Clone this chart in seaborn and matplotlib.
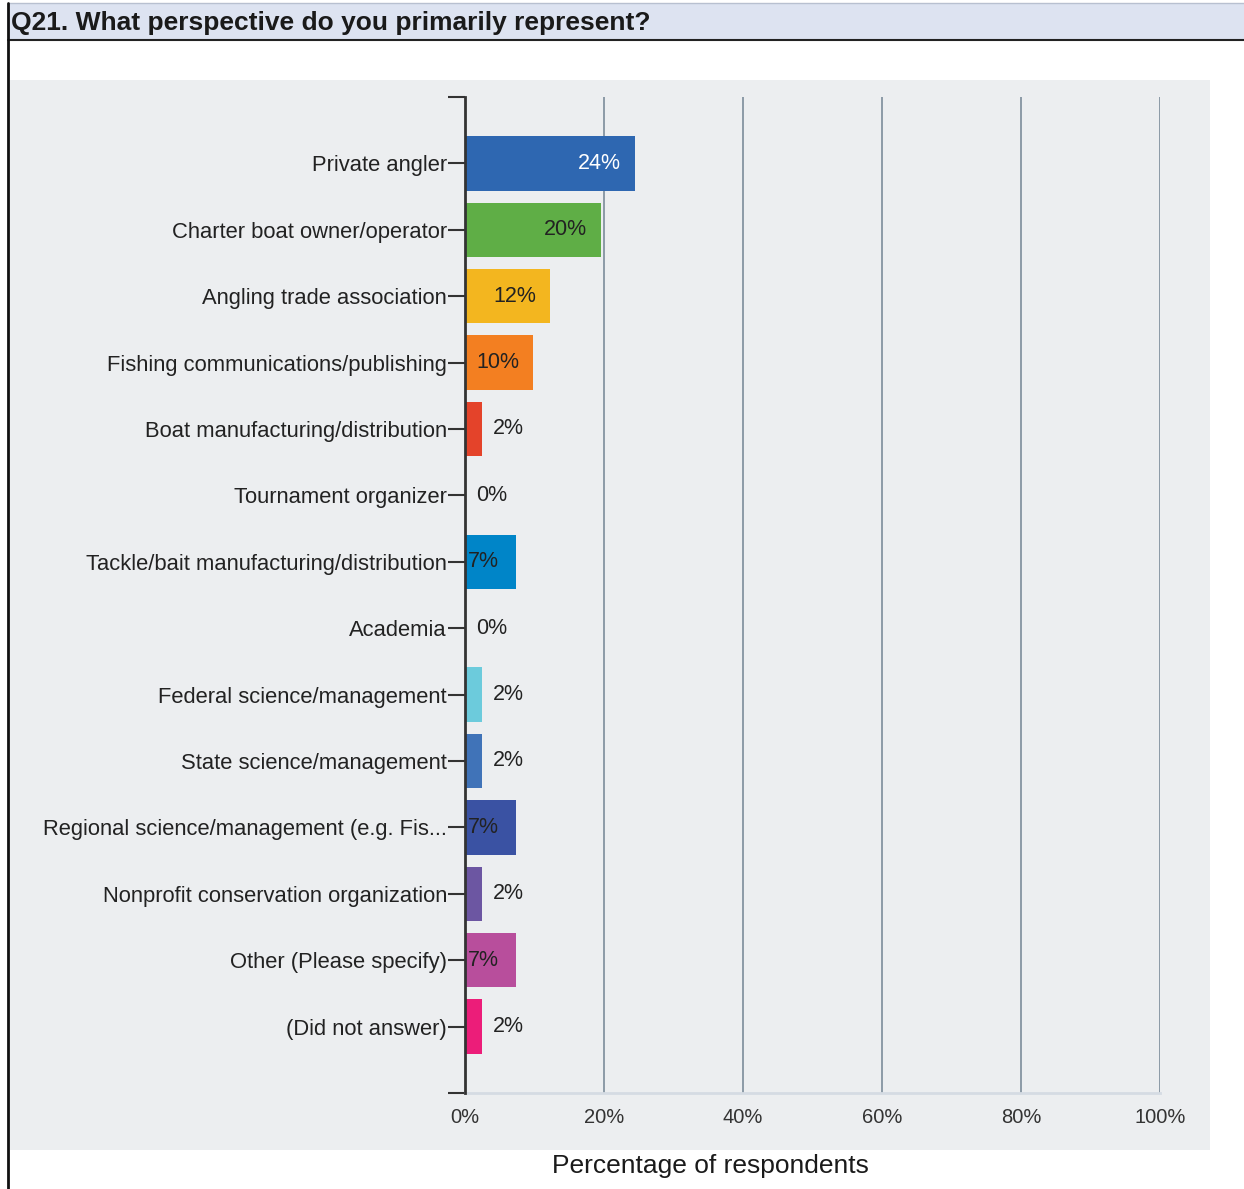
import matplotlib
matplotlib.use("Agg")
import matplotlib.pyplot as plt
import seaborn as sns
import pandas as pd
from matplotlib.patches import Rectangle
from matplotlib.lines import Line2D

categories = [
    "Private angler",
    "Charter boat owner/operator",
    "Angling trade association",
    "Fishing communications/publishing",
    "Boat manufacturing/distribution",
    "Tournament organizer",
    "Tackle/bait manufacturing/distribution",
    "Academia",
    "Federal science/management",
    "State science/management",
    "Regional science/management (e.g. Fis...",
    "Nonprofit conservation organization",
    "Other (Please specify)",
    "(Did not answer)",
]
counts = [10, 8, 5, 4, 1, 0, 3, 0, 1, 1, 3, 1, 3, 1]
total = 41
percents = [c / total * 100 for c in counts]
labels = ["24%", "20%", "12%", "10%", "2%", "0%", "7%", "0%", "2%", "2%", "7%", "2%", "7%", "2%"]
colors = ["#2e67b1", "#5fae46", "#f3b61f", "#f37f21", "#e4432a", "#999999", "#0085c8",
          "#999999", "#6ccbdc", "#4073b8", "#3a52a3", "#6c56a2", "#b84e9c", "#ec1d79"]
label_colors = ["white"] + ["#222222"] * 13
xticks = [0, 20, 40, 60, 80, 100]
xticklabels = ["0%", "20%", "40%", "60%", "80%", "100%"]

df = pd.DataFrame({"category": categories, "percent": percents})

sns.set_theme(style="white")
plt.rcParams["font.family"] = ["Liberation Sans", "DejaVu Sans"]

W, H = 1244, 1189
fig = plt.figure(figsize=(W / 100, H / 100), dpi=100)

# title bar
fig.patches.append(Rectangle((8 / W, 1 - 40 / H), 1 - 8 / W, 37 / H, transform=fig.transFigure,
                             facecolor="#dde3f1", edgecolor="none", zorder=-2))
fig.lines.append(Line2D([8 / W, 1], [1 - 40 / H, 1 - 40 / H], transform=fig.transFigure,
                        color="#222222", lw=1.5))
fig.lines.append(Line2D([8 / W, 1], [1 - 3 / H, 1 - 3 / H], transform=fig.transFigure,
                        color="#b8c0d0", lw=1))
fig.lines.append(Line2D([8 / W, 8 / W], [0, 1 - 3 / H], transform=fig.transFigure,
                        color="#111111", lw=2))
fig.text(11 / W, 1 - 23 / H, "Q21. What perspective do you primarily represent?",
         fontsize=19, fontweight="bold", color="#1a1a1a", va="center", ha="left")

# gray plot background
bg = "#eceef0"
fig.patches.append(Rectangle((10 / W, 1 - 1150 / H), 1200 / W, 1070 / H, transform=fig.transFigure,
                             facecolor=bg, edgecolor="none", zorder=-2))

ax = fig.add_axes([465 / W, 1 - 1093 / H, 695 / W, 996 / H])
ax.set_facecolor(bg)

sns.barplot(data=df, x="percent", y="category", hue="category", palette=colors,
            orient="h", legend=False, width=0.82, ax=ax, saturation=1,
            edgecolor="none", zorder=3)

ax.set_xlim(0, 100)
ax.set_ylim(14, -1)
ax.set_xticks(xticks)
ax.set_xticklabels(xticklabels, fontsize=14.5, color="#333333")
ax.set_yticks(range(len(categories)))
ax.set_yticklabels(categories, fontsize=15.8, color="#222222")
ax.set_yticks([-1, 14], minor=True)
ax.tick_params(axis="y", which="both", length=12, width=1.5, color="#333333", pad=1, left=True)
ax.tick_params(axis="x", length=0, pad=11)
ax.set_xlabel("")
ax.set_ylabel("")

ax.grid(axis="x", color="#8c9aa6", lw=1.4, zorder=1)
ax.grid(axis="y", visible=False)
for s in ["top", "right"]:
    ax.spines[s].set_visible(False)
ax.spines["left"].set_color("#333333")
ax.spines["left"].set_linewidth(2)
ax.spines["left"].set_zorder(4)
ax.spines["bottom"].set_color("#d5dbe3")
ax.spines["bottom"].set_linewidth(2)

for i, (p, lab, lc) in enumerate(zip(percents, labels, label_colors)):
    if p >= 9:
        ax.text(p - 2, i, lab, ha="right", va="center", fontsize=15.5, color=lc, zorder=5)
    elif p >= 5:
        ax.text(0.4, i, lab, ha="left", va="center", fontsize=15.5, color=lc, zorder=5)
    else:
        ax.text(p + 1.6, i, lab, ha="left", va="center", fontsize=15.5, color=lc, zorder=5)

fig.text(710 / W, 1 - 1166 / H, "Percentage of respondents", fontsize=19,
         color="#1a1a1a", ha="center", va="center")

fig.savefig("out.png", dpi=100, facecolor="white")
